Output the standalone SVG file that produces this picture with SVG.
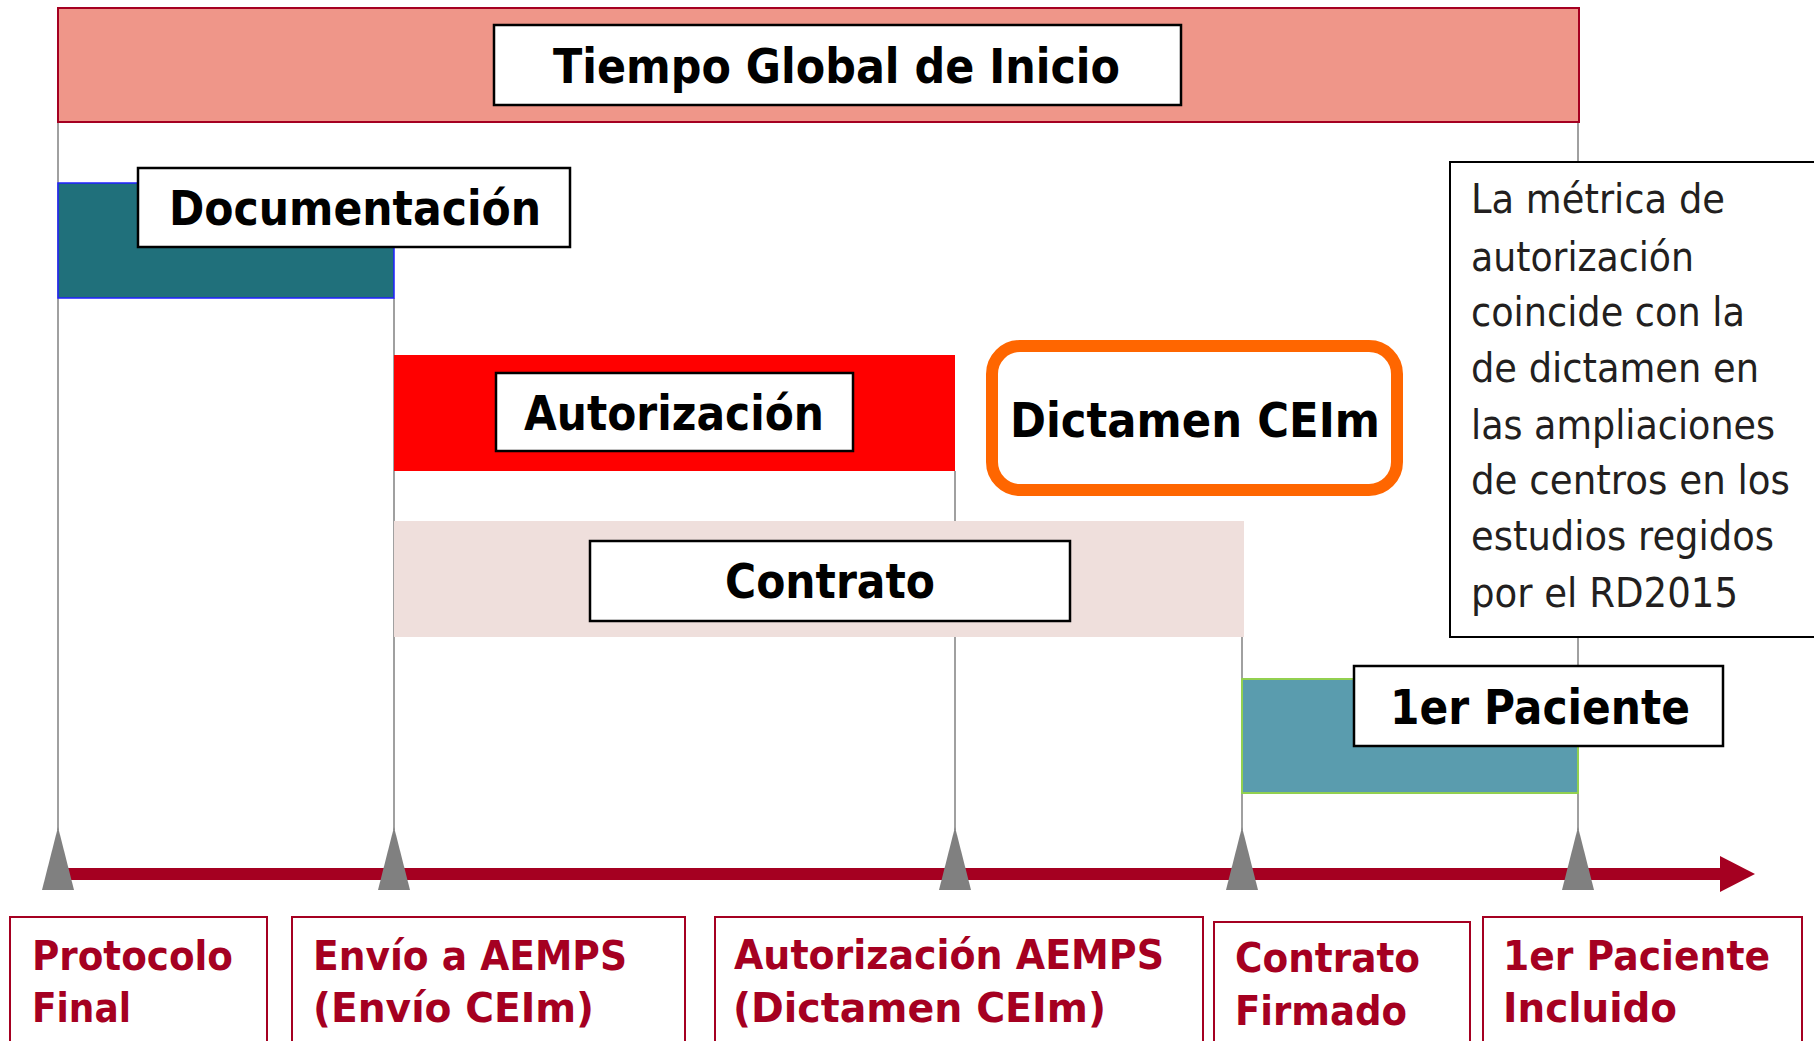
<svg xmlns="http://www.w3.org/2000/svg" width="1814" height="1041" viewBox="0 0 1814 1041">
<style>
.lbl{fill:#fff;stroke:#000;stroke-width:2.5}
.bt{font-family:"DejaVu Sans","Liberation Sans",sans-serif;font-weight:bold;fill:#000;font-size:48px}
.ms{font-family:"DejaVu Sans","Liberation Sans",sans-serif;font-weight:bold;fill:#A50021;font-size:41px}
.nt{font-family:"DejaVu Sans","Liberation Sans",sans-serif;fill:#231F20;font-size:41px}
.vl{stroke:#808080;stroke-width:1.5;fill:none}
.tri{fill:#808080}
.mb{fill:#fff;stroke:#A50021;stroke-width:2}
</style>
<defs>
<marker id="ah" markerUnits="userSpaceOnUse" markerWidth="36" markerHeight="36" refX="0" refY="18" orient="auto">
<path d="M0,0 L35,18 L0,36 Z" fill="#A50021"/>
</marker>
</defs>
<rect width="1814" height="1041" fill="#fff"/>

<g id="connectors">
<line class="vl" x1="58" y1="122" x2="58" y2="830"/>
<line class="vl" x1="394" y1="298" x2="394" y2="830"/>
<line class="vl" x1="955" y1="471" x2="955" y2="830"/>
<line class="vl" x1="1242" y1="637" x2="1242" y2="830"/>
<line class="vl" x1="1578" y1="122" x2="1578" y2="830"/>
<line x1="58" y1="874" x2="1720" y2="874" stroke="#A50021" stroke-width="12" marker-end="url(#ah)"/>
<path class="tri" d="M58,827 L74,890 L42,890 Z"/>
<path class="tri" d="M394,827 L410,890 L378,890 Z"/>
<path class="tri" d="M955,827 L971,890 L939,890 Z"/>
<path class="tri" d="M1242,827 L1258,890 L1226,890 Z"/>
<path class="tri" d="M1578,827 L1594,890 L1562,890 Z"/>
</g>

<g id="tiempo-global">
<rect x="58" y="8" width="1521" height="114" fill="#EF9689" stroke="#A50021" stroke-width="2"/>
<rect class="lbl" x="494" y="25" width="687" height="80"/>
<text class="bt" x="553" y="83" font-size="50" textLength="567" lengthAdjust="spacingAndGlyphs">Tiempo Global de Inicio</text>
</g>

<g id="documentacion">
<rect x="58" y="183" width="336" height="115" fill="#20707B" stroke="#2020FF" stroke-width="1.5"/>
<rect class="lbl" x="138" y="168" width="432" height="79"/>
<text class="bt" x="169" y="225" textLength="372" lengthAdjust="spacingAndGlyphs">Documentación</text>
</g>

<g id="autorizacion">
<rect x="394" y="355" width="561" height="116" fill="#FF0000"/>
<rect class="lbl" x="496" y="373" width="357" height="78"/>
<text class="bt" x="524" y="430" textLength="300" lengthAdjust="spacingAndGlyphs">Autorización</text>
</g>

<g id="dictamen">
<rect x="992" y="346" width="405" height="144" rx="28" ry="28" fill="#fff" stroke="#FF6600" stroke-width="12"/>
<text class="bt" x="1010" y="437" textLength="370" lengthAdjust="spacingAndGlyphs">Dictamen CEIm</text>
</g>

<g id="contrato">
<rect x="394" y="521" width="850" height="116" fill="#EFDFDC"/>
<rect class="lbl" x="590" y="541" width="480" height="80"/>
<text class="bt" x="725" y="598" textLength="210" lengthAdjust="spacingAndGlyphs">Contrato</text>
</g>

<g id="paciente">
<rect x="1242" y="679" width="336" height="114" fill="#5A9CAE" stroke="#92D050" stroke-width="2"/>
<rect class="lbl" x="1354" y="666" width="369" height="80"/>
<text class="bt" x="1390" y="724" textLength="300" lengthAdjust="spacingAndGlyphs">1er Paciente</text>
</g>

<g id="nota">
<rect x="1450" y="162" width="380" height="475" fill="#fff" stroke="#000" stroke-width="2"/>
<text class="nt" x="1471" y="213" textLength="254" lengthAdjust="spacingAndGlyphs">La métrica de</text>
<text class="nt" x="1471" y="271" textLength="223" lengthAdjust="spacingAndGlyphs">autorización</text>
<text class="nt" x="1471" y="326" textLength="274" lengthAdjust="spacingAndGlyphs">coincide con la</text>
<text class="nt" x="1471" y="382" textLength="288" lengthAdjust="spacingAndGlyphs">de dictamen en</text>
<text class="nt" x="1471" y="439" textLength="304" lengthAdjust="spacingAndGlyphs">las ampliaciones</text>
<text class="nt" x="1471" y="494" textLength="319" lengthAdjust="spacingAndGlyphs">de centros en los</text>
<text class="nt" x="1471" y="550" textLength="303" lengthAdjust="spacingAndGlyphs">estudios regidos</text>
<text class="nt" x="1471" y="607" textLength="267" lengthAdjust="spacingAndGlyphs">por el RD2015</text>
</g>

<g id="m-protocolo">
<rect class="mb" x="10" y="917" width="257" height="130"/>
<text class="ms" x="32" y="970" textLength="201" lengthAdjust="spacingAndGlyphs">Protocolo</text>
<text class="ms" x="32" y="1022" textLength="99" lengthAdjust="spacingAndGlyphs">Final</text>
</g>

<g id="m-envio">
<rect class="mb" x="292" y="917" width="393" height="130"/>
<text class="ms" x="313" y="970" textLength="314" lengthAdjust="spacingAndGlyphs">Envío a AEMPS</text>
<text class="ms" x="313" y="1022" textLength="281" lengthAdjust="spacingAndGlyphs">(Envío CEIm)</text>
</g>

<g id="m-autorizacion">
<rect class="mb" x="715" y="917" width="488" height="130"/>
<text class="ms" x="734" y="969" textLength="430" lengthAdjust="spacingAndGlyphs">Autorización AEMPS</text>
<text class="ms" x="733" y="1022" textLength="373" lengthAdjust="spacingAndGlyphs">(Dictamen CEIm)</text>
</g>

<g id="m-contrato">
<rect class="mb" x="1214" y="922" width="256" height="130"/>
<text class="ms" x="1235" y="972" textLength="185" lengthAdjust="spacingAndGlyphs">Contrato</text>
<text class="ms" x="1235" y="1025" textLength="172" lengthAdjust="spacingAndGlyphs">Firmado</text>
</g>

<g id="m-paciente">
<rect class="mb" x="1483" y="917" width="319" height="130"/>
<text class="ms" x="1503" y="970" textLength="267" lengthAdjust="spacingAndGlyphs">1er Paciente</text>
<text class="ms" x="1503" y="1022" textLength="174" lengthAdjust="spacingAndGlyphs">Incluido</text>
</g>
</svg>
